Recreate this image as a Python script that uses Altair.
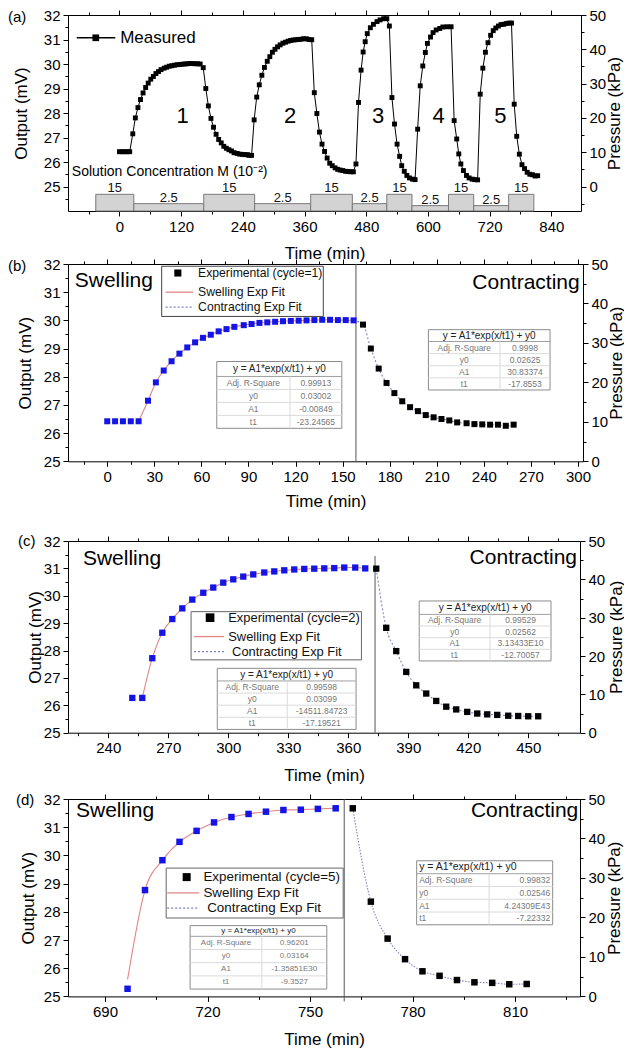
import altair as alt
import pandas as pd

FONT = "Liberation Sans, Arial, Helvetica, sans-serif"
NARROW = "Liberation Sans Narrow, Arial Narrow, Liberation Sans, sans-serif"
BLUE = "#1414e6"
PINK = "#e38585"
DOT = "#8080c4"

# ---------------- data ----------------
# cycle 1 (panel b)
b_swell_t = [0, 5, 10, 15, 20, 26, 31, 36, 41, 46, 51, 56, 61, 66, 71, 76, 81, 87, 92, 97,
             102, 107, 112, 117, 122, 127, 132, 137, 142, 147, 152, 157]
b_swell_v = [26.42, 26.42, 26.42, 26.42, 26.42, 27.15, 27.80, 28.22, 28.55, 28.82, 29.04, 29.22,
             29.38, 29.49, 29.61, 29.69, 29.77, 29.83, 29.87, 29.91, 29.93, 29.95, 29.97, 29.98,
             29.99, 30.00, 30.01, 30.02, 30.02, 30.01, 30.01, 30.00]
b_con_t = [163, 168, 173, 178, 183, 188, 193, 198, 203, 208, 213, 218, 223, 229, 234, 239, 244, 249, 254, 259]
b_con_v = [29.85, 29.00, 28.29, 27.78, 27.42, 27.13, 26.92, 26.78, 26.64, 26.56, 26.50, 26.45,
           26.38, 26.35, 26.32, 26.31, 26.30, 26.30, 26.26, 26.30]
# cycle 2 (panel c)
c_swell_t = [252, 257, 262, 267, 272, 277, 282, 287.5, 292.5, 297.5, 302.5, 307.5, 312.5, 318,
             323, 328, 333, 338, 343, 348, 353, 358, 363.5, 368.5]
c_swell_v = [26.27, 26.27, 27.72, 28.65, 29.15, 29.54, 29.86, 30.11, 30.30, 30.48, 30.60, 30.70,
             30.78, 30.85, 30.89, 30.93, 30.96, 30.98, 30.99, 31.00, 31.01, 31.03, 31.03, 31.00]
c_con_t = [374, 379, 384, 389, 394, 399, 404, 409, 414, 419.5, 424.5, 429.5, 434.5, 440, 445, 450, 455]
c_con_v = [30.99, 28.83, 27.98, 27.22, 26.73, 26.43, 26.16, 25.95, 25.85, 25.76, 25.70, 25.67,
           25.65, 25.62, 25.61, 25.60, 25.60]
# cycles 3 and 4 (panel a only)
c3_swell_t = [460, 465, 470, 474, 478, 482, 488, 494, 501, 507, 514, 520, 525]
c3_swell_v = [25.92, 28.43, 29.75, 30.49, 30.91, 31.24, 31.48, 31.62, 31.73, 31.80, 31.85, 31.85, 31.55]
c3_con_t = [530, 535, 540, 545, 549, 554, 559, 564, 570, 575]
c3_con_v = [28.63, 27.55, 26.73, 26.23, 25.85, 25.62, 25.45, 25.35, 25.30, 25.28]
c4_swell_t = [580, 585, 590, 595, 599, 605, 610, 616, 623, 629, 637, 645]
c4_swell_v = [27.34, 29.11, 29.92, 30.47, 30.84, 31.10, 31.28, 31.39, 31.45, 31.51, 31.52, 31.52]
c4_con_t = [651, 656, 660, 664, 669, 675, 680, 686, 691]
c4_con_v = [27.69, 26.94, 26.33, 25.92, 25.65, 25.45, 25.35, 25.30, 25.28]
# cycle 5 (panel d)
d_swell_t = [696.6, 701.7, 706.8, 711.8, 716.8, 721.9, 727, 732, 737.1, 742.2, 747.3, 752.3, 757.5]
d_swell_v = [25.27, 28.77, 29.83, 30.48, 30.87, 31.17, 31.36, 31.47, 31.55, 31.61, 31.62, 31.65, 31.67]
d_con_t = [762.5, 767.8, 772.7, 777.8, 782.9, 787.9, 793, 798.1, 803.3, 808.3, 813.4]
d_con_v = [31.67, 28.36, 27.05, 26.32, 25.89, 25.73, 25.58, 25.50, 25.48, 25.43, 25.44]

# solution concentration steps (panel a)
conc_start = [-46, 28, 164, 263, 372, 453, 520, 569, 640, 689, 757]
conc_end = [28, 164, 263, 372, 453, 520, 569, 640, 689, 757, 806]
conc_label = ["15", "2.5", "15", "2.5", "15", "2.5", "15", "2.5", "15", "2.5", "15"]
conc_top = [24.68, 24.30, 24.68, 24.30, 24.68, 24.30, 24.68, 24.22, 24.68, 24.22, 24.68]

cycle_names = ["1", "2", "3", "4", "5"]
cycle_name_t = [123, 332, 503, 621, 741]
cycle_name_v = [27.88, 27.88, 27.88, 27.88, 27.88]

# fit tables
tbl_title = "y = A1*exp(x/t1) + y0"
tbl_rows = ["Adj. R-Square", "y0", "A1", "t1"]
b_sw_vals = ["0.99913", "0.03002", "-0.00849", "-23.24565"]
b_co_vals = ["0.9998", "0.02625", "30.83374", "-17.8553"]
c_sw_vals = ["0.99598", "0.03099", "-14511.84723", "-17.19521"]
c_co_vals = ["0.99529", "0.02562", "3.13433E10", "-12.70057"]
d_sw_vals = ["0.96201", "0.03164", "-1.35851E30", "-9.3527"]
d_co_vals = ["0.99832", "0.02546", "4.24309E43", "-7.22332"]

# ticks
a_xticks = [-60, 0, 60, 120, 180, 240, 300, 360, 420, 480, 540, 600, 660, 720, 780, 840]
a_yticks = [24.5, 25, 25.5, 26, 26.5, 27, 27.5, 28, 28.5, 29, 29.5, 30, 30.5, 31, 31.5, 32]
a_pticks = [-5, 0, 5, 10, 15, 20, 25, 30, 35, 40, 45, 50]
y_ticks = [25, 25.5, 26, 26.5, 27, 27.5, 28, 28.5, 29, 29.5, 30, 30.5, 31, 31.5, 32]
p_ticks = [0, 5, 10, 15, 20, 25, 30, 35, 40, 45, 50]
b_xticks = [-15, 0, 15, 30, 45, 60, 75, 90, 105, 120, 135, 150, 165, 180, 195, 210, 225, 240,
            255, 270, 285, 300]
c_xticks = [225, 240, 255, 270, 285, 300, 315, 330, 345, 360, 375, 390, 405, 420, 435, 450, 465]
d_xticks = [690, 705, 720, 735, 750, 765, 780, 795, 810, 825]

# ---------------- layout ----------------
PA = dict(xdom=[-100, 897.7], ydom=[24, 32], pdom=[-50 / 7, 50], w=513, h=196)
PB = dict(xdom=[-25, 303.2], ydom=[25, 32], pdom=[0, 50], w=515, h=197.3)
PC = dict(xdom=[219.85, 475.9], ydom=[25, 32], pdom=[0, 50], w=512, h=191.7)
PD = dict(xdom=[679.17, 829.0], ydom=[25, 32], pdom=[0, 50], w=512, h=197.4)


def X(field, P):
    return alt.X(f"{field}:Q", scale=alt.Scale(domain=P["xdom"], nice=False, zero=False), axis=None)


def Y(field, P):
    return alt.Y(f"{field}:Q", scale=alt.Scale(domain=P["ydom"], nice=False, zero=False), axis=None)


def make_axis(orient, values, major, labels=True, title=None, tx=None, ty=None, angle=None, label_min=None):
    maj = f"abs(datum.value / {major} - round(datum.value / {major})) < 0.001"
    cond = maj if label_min is None else f"({maj}) && datum.value >= {label_min}"
    kw = dict(orient=orient, values=values, grid=False,
              domain=True, domainColor="#000", domainWidth=1,
              ticks=True, tickColor="#000", tickWidth=1,
              tickSize={"condition": {"test": maj, "value": 5}, "value": 3},
              labels=labels)
    if labels:
        kw.update(labelFont=FONT, labelFontSize=15, labelColor="#000", labelPadding=3,
                  labelOverlap=False, labelFlush=False, format=".0f",
                  labelExpr=f"({cond}) ? datum.label : ''")
    if title:
        kw.update(title=title, titleFont=FONT, titleFontSize=17, titleFontWeight="normal",
                  titleColor="#000", titleX=tx, titleY=ty, titleAlign="center",
                  titleBaseline="middle")
        if angle is not None:
            kw["titleAngle"] = angle
    else:
        kw["title"] = None
    return alt.Axis(**kw)


def panel_axes(P, xt, xmaj, yt, pt, ylab_min, ytx, ptx, xty):
    d = pd.DataFrame({"x": P["xdom"], "y": P["ydom"]})
    xs = alt.Scale(domain=P["xdom"], nice=False, zero=False)
    ys = alt.Scale(domain=P["ydom"], nice=False, zero=False)
    ps = alt.Scale(domain=P["pdom"], nice=False, zero=False)
    bl = alt.Chart(d).mark_point(opacity=0).encode(
        x=alt.X("x:Q", scale=xs, axis=make_axis("bottom", xt, xmaj, title="Time (min)",
                                                 tx=P["w"] / 2, ty=xty)),
        y=alt.Y("y:Q", scale=ys, axis=make_axis("left", yt, 1, title="Output (mV)", tx=ytx,
                                                 ty=P["h"] / 2, angle=270, label_min=ylab_min)))
    top = alt.Chart(d).mark_point(opacity=0).encode(
        x=alt.X("x:Q", scale=xs, axis=make_axis("top", xt, xmaj, labels=False)))
    right = alt.Chart(pd.DataFrame({"p": P["pdom"]})).mark_point(opacity=0).encode(
        y=alt.Y("p:Q", scale=ps, axis=make_axis("right", pt, 10, title="Pressure (kPa)", tx=ptx,
                                                 ty=P["h"] / 2, angle=270)))
    return [bl, top, right]


def texts(P, xs, ys, strs, size, align="left", baseline="middle", font=FONT, color="#000"):
    df = pd.DataFrame({"x": xs, "y": ys, "s": strs})
    return alt.Chart(df).mark_text(align=align, baseline=baseline, font=font, fontSize=size,
                                   color=color).encode(x=X("x", P), y=Y("y", P), text="s:N")


def corner_label(s, dx, dy):
    return alt.Chart(pd.DataFrame({"s": [s]})).mark_text(
        align="left", baseline="middle", font=FONT, fontSize=15, color="#000").encode(
        x=alt.value(dx), y=alt.value(dy), text="s:N")


def points(P, t, v, color, size):
    df = pd.DataFrame({"t": t, "v": v})
    return alt.Chart(df).mark_point(shape="square", filled=True, size=size, color=color,
                                    opacity=1).encode(x=X("t", P), y=Y("v", P))


def fitline(P, t, v, color, dash=None):
    df = pd.DataFrame({"t": t, "v": v})
    kw = dict(color=color, strokeWidth=1.1, interpolate="monotone")
    if dash:
        kw["strokeDash"] = dash
    return alt.Chart(df).mark_line(**kw).encode(x=X("t", P), y=Y("v", P))


def vline(P, t, y1, y2):
    df = pd.DataFrame({"t": [t], "y": [y1], "y2": [y2]})
    return alt.Chart(df).mark_rule(color="#555", strokeWidth=1).encode(
        x=X("t", P), y=Y("y", P), y2=alt.Y2("y2"))


def table(P, box, values, tsize=10, rsize=8.5, mode="center"):
    x0, x1, xd, yt, ym, yb = box["x0"], box["x1"], box["xd"], box["yt"], box["ym"], box["yb"]
    n = len(tbl_rows)
    rh = (ym - yb) / n
    edges = [ym - i * rh for i in range(1, n)]
    centers = [ym - (i + 0.5) * rh for i in range(n)]
    pad = 2.5 * (P["xdom"][1] - P["xdom"][0]) / P["w"]
    L = []
    L.append(alt.Chart(pd.DataFrame({"x": [x0], "x2": [x1], "y": [yt], "y2": [yb]})).mark_rect(
        fill="white", stroke="#8c8c8c", strokeWidth=1).encode(
        x=X("x", P), x2=alt.X2("x2"), y=Y("y", P), y2=alt.Y2("y2")))
    L.append(alt.Chart(pd.DataFrame({"x": [x0] * len(edges), "x2": [x1] * len(edges), "y": edges})).mark_rule(
        color="#dadada", strokeWidth=1).encode(x=X("x", P), x2=alt.X2("x2"), y=Y("y", P)))
    L.append(alt.Chart(pd.DataFrame({"x": [x0], "x2": [x1], "y": [ym]})).mark_rule(
        color="#a0a0a0", strokeWidth=1).encode(x=X("x", P), x2=alt.X2("x2"), y=Y("y", P)))
    L.append(alt.Chart(pd.DataFrame({"x": [xd], "y": [ym], "y2": [yb]})).mark_rule(
        color="#dadada", strokeWidth=1).encode(x=X("x", P), y=Y("y", P), y2=alt.Y2("y2")))
    if mode == "center":
        L.append(texts(P, [(x0 + x1) / 2], [(yt + ym) / 2], [tbl_title], tsize, align="center", color="#222"))
        L.append(texts(P, [(x0 + xd) / 2] * n, centers, tbl_rows, rsize, align="center", color="#777"))
        L.append(texts(P, [(xd + x1) / 2] * n, centers, values, rsize, align="center", color="#777"))
    else:
        L.append(texts(P, [x0 + pad], [(yt + ym) / 2], [tbl_title], tsize, align="left", color="#222"))
        L.append(texts(P, [x0 + pad] * n, centers, tbl_rows, rsize, align="left", color="#777"))
        L.append(texts(P, [x1 - pad] * n, centers, values, rsize, align="right", color="#777"))
    return L


def legend(P, Lg, labels, size):
    L = []
    L.append(alt.Chart(pd.DataFrame({"x": [Lg["x0"]], "x2": [Lg["x1"]], "y": [Lg["y0"]], "y2": [Lg["y1"]]})).mark_rect(
        fill="white", stroke=Lg["stroke"], strokeWidth=1).encode(
        x=X("x", P), x2=alt.X2("x2"), y=Y("y", P), y2=alt.Y2("y2")))
    L.append(points(P, [Lg["sq"]], [Lg["rows"][0]], "#000", Lg["sqsize"]))
    L.append(alt.Chart(pd.DataFrame({"x": [Lg["lx0"]], "x2": [Lg["lx1"]], "y": [Lg["rows"][1]]})).mark_rule(
        color=PINK, strokeWidth=1.3).encode(x=X("x", P), x2=alt.X2("x2"), y=Y("y", P)))
    L.append(alt.Chart(pd.DataFrame({"x": [Lg["lx0"]], "x2": [Lg["lx1"]], "y": [Lg["rows"][2]]})).mark_rule(
        color=DOT, strokeWidth=1.3, strokeDash=[2, 2]).encode(x=X("x", P), x2=alt.X2("x2"), y=Y("y", P)))
    L.append(texts(P, Lg["tx"], Lg["rows"], labels, size, font=FONT, color="#111"))
    return L


def panel(P, layers):
    return alt.layer(*layers).resolve_scale(x="independent", y="independent").resolve_axis(
        x="independent", y="independent").properties(width=P["w"], height=P["h"])


# ---------------- panel (a) ----------------
a_t = b_swell_t + b_con_t[:-2] + c_swell_t + c_con_t + c3_swell_t + c3_con_t + c4_swell_t + c4_con_t + d_swell_t + d_con_t
a_v = b_swell_v + b_con_v[:-2] + c_swell_v + c_con_v + c3_swell_v + c3_con_v + c4_swell_v + c4_con_v + d_swell_v + d_con_v
a_df = pd.DataFrame({"t": a_t, "v": a_v})
conc_df = pd.DataFrame({"s": conc_start, "e": conc_end, "top": conc_top, "lab": conc_label})

la = panel_axes(PA, a_xticks, 120, a_yticks, a_pticks, 25, -47, 33, 42)
la.append(alt.Chart(conc_df).transform_calculate(base="24").mark_rect(
    fill="#d3d3d3", stroke="#7a7a7a", strokeWidth=1).encode(
    x=X("s", PA), x2=alt.X2("e"), y=Y("top", PA), y2=alt.Y2("base:Q")))
la.append(alt.Chart(conc_df).transform_calculate(
    mid="(datum.s + datum.e) / 2", ly="datum.top + 0.08").mark_text(
    align="center", baseline="alphabetic", font=NARROW, fontSize=13, color="#111").encode(
    x=X("mid", PA), y=Y("ly", PA), text="lab:N"))
la.append(alt.Chart(a_df).mark_line(color="#000", strokeWidth=1).encode(x=X("t", PA), y=Y("v", PA)))
la.append(points(PA, a_t, a_v, "#000", 24))
la.append(texts(PA, cycle_name_t, cycle_name_v, cycle_names, 22, align="center"))
la.append(alt.Chart(pd.DataFrame({"x": [-83], "x2": [-8], "y": [31.07]})).mark_rule(
    color="#000", strokeWidth=1.5).encode(x=X("x", PA), x2=alt.X2("x2"), y=Y("y", PA)))
la.append(points(PA, [-46], [31.07], "#000", 45))
la.append(texts(PA, [1.4], [31.07], ["Measured"], 17))
la.append(texts(PA, [-92.6], [25.6], ["Solution Concentration M (10\u207b\u00b2)"], 14, font=NARROW))
la.append(corner_label("(a)", -60, 2))
pa = panel(PA, la)

# ---------------- panel (b) ----------------
lb = panel_axes(PB, b_xticks, 30, y_ticks, p_ticks, None, -43, 33, 40)
lb.append(vline(PB, 158.5, 32, 25))
lb.append(fitline(PB, b_swell_t[4:], b_swell_v[4:], PINK))
lb.append(fitline(PB, b_swell_t[-1:] + b_con_t, b_swell_v[-1:] + b_con_v, DOT, [2, 2]))
lb.append(points(PB, b_swell_t, b_swell_v, BLUE, 36))
lb.append(points(PB, b_con_t, b_con_v, "#000", 36))
lb += legend(PB, dict(x0=34.7, x1=137.7, y0=31.92, y1=30.14, sq=45, sqsize=50, lx0=37.2, lx1=54.7,
                      rows=[31.68, 31.0, 30.47], tx=[57.9, 57.9, 57.9], stroke="#444"),
             ["Experimental (cycle=1)", "Swelling Exp Fit", "Contracting Exp Fit"], 12.2)
lb += table(PB, dict(x0=69.8, x1=149.5, xd=116.5, yt=28.54, ym=28.01, yb=26.17), b_sw_vals)
lb += table(PB, dict(x0=204.7, x1=282.2, xd=250.3, yt=29.67, ym=29.25, yb=27.53), b_co_vals)
lb.append(texts(PB, [-20.7], [31.39], ["Swelling"], 21))
lb.append(texts(PB, [301.1], [31.32], ["Contracting"], 21, align="right"))
lb.append(corner_label("(b)", -60, 2))
pb = panel(PB, lb)

# ---------------- panel (c) ----------------
lc = panel_axes(PC, c_xticks, 30, y_ticks, p_ticks, None, -33, 36, 43)
lc.append(vline(PC, 373.4, 31.45, 25))
lc.append(fitline(PC, c_swell_t[1:], c_swell_v[1:], PINK))
lc.append(fitline(PC, c_con_t, c_con_v, DOT, [2, 2]))
lc.append(points(PC, c_swell_t, c_swell_v, BLUE, 40))
lc.append(points(PC, c_con_t, c_con_v, "#000", 40))
lc += legend(PC, dict(x0=281.4, x1=366.6, y0=29.42, y1=27.66, sq=290.9, sqsize=75, lx0=282.9, lx1=297.9,
                      rows=[29.2, 28.51, 27.96], tx=[300, 300, 301.9], stroke="#666"),
             ["Experimental (cycle=2)", "Swelling Exp Fit", "Contracting Exp Fit"], 12.9)
lc += table(PC, dict(x0=294.5, x1=363.9, xd=329.5, yt=27.35, ym=26.89, yb=25.12), c_sw_vals)
lc += table(PC, dict(x0=395.5, x1=461.4, xd=430.9, yt=29.81, ym=29.32, yb=27.62), c_co_vals)
lc.append(texts(PC, [227.3], [31.33], ["Swelling"], 21))
lc.append(texts(PC, [474.4], [31.39], ["Contracting"], 21, align="right"))
lc.append(corner_label("(c)", -50, 0))
pc = panel(PC, lc)

# ---------------- panel (d) ----------------
ld = panel_axes(PD, d_xticks, 30, y_ticks, p_ticks, None, -40, 34, 43)
ld.append(vline(PD, 760, 32, 24.82))
ld.append(fitline(PD, d_swell_t, [25.6] + d_swell_v[1:], PINK))
ld.append(fitline(PD, d_con_t, d_con_v, DOT, [1.5, 1.5]))
ld.append(points(PD, d_swell_t, d_swell_v, BLUE, 42))
ld.append(points(PD, d_con_t, d_con_v, "#000", 42))
ld += legend(PD, dict(x0=707.9, x1=759.7, y0=29.55, y1=27.78, sq=713.9, sqsize=64, lx0=708.2, lx1=717.6,
                      rows=[29.23, 28.67, 28.13], tx=[718.8, 718.8, 719.9], stroke="#666"),
             ["Experimental (cycle=5)", "Swelling Exp Fit", "Contracting Exp Fit"], 13.4)
ld += table(PD, dict(x0=714.9, x1=754.9, xd=735.9, yt=27.51, ym=27.13, yb=25.26), d_sw_vals,
            tsize=8, rsize=8)
ld += table(PD, dict(x0=781.2, x1=821.0, xd=802.4, yt=29.81, ym=29.35, yb=27.54), d_co_vals,
            tsize=10.5, rsize=8.5, mode="left")
ld.append(texts(PD, [681.5], [31.56], ["Swelling"], 21))
ld.append(texts(PD, [828.5], [31.56], ["Contracting"], 21, align="right"))
ld.append(corner_label("(d)", -52, 1))
pdd = panel(PD, ld)


def spacer(h):
    return alt.Chart(pd.DataFrame({"v": [0]})).mark_text(text="").encode(
        x=alt.value(0), y=alt.value(0)).properties(width=10, height=h)


chart = alt.vconcat(pa, spacer(52.7), pb, spacer(78.4), pc, spacer(65.9), pdd,
                    spacing=0, bounds="flush").properties(
    padding={"left": 0, "top": 0, "right": 0, "bottom": 0}, background="white"
).configure_view(strokeWidth=0)

chart.save("out.html", embed_options={"renderer": "svg", "actions": False})
